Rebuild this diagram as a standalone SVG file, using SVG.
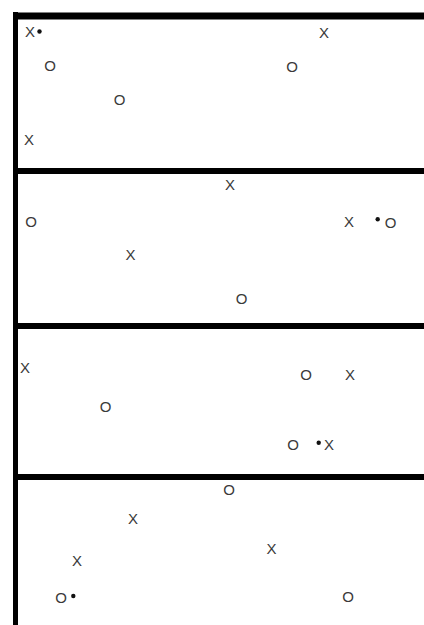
<svg xmlns="http://www.w3.org/2000/svg" width="424" height="625" viewBox="0 0 424 625">
<style>
.m{font-family:"Liberation Sans",Arial,sans-serif;font-size:15px;fill:#3a3a3a;text-anchor:middle}
.d{fill:#111}
.b{stroke:#000;fill:none}
</style>
<rect width="424" height="625" fill="#fff"/>
<g id="frame">
<line class="b" x1="15.5" y1="12" x2="15.5" y2="625" stroke-width="5"/>
<line class="b" x1="13" y1="16" x2="424" y2="16" stroke-width="7"/>
<line class="b" x1="13" y1="171" x2="424" y2="171" stroke-width="6"/>
<line class="b" x1="13" y1="326" x2="424" y2="326" stroke-width="6"/>
<line class="b" x1="13" y1="477" x2="424" y2="477" stroke-width="6"/>
</g>
<g id="panel1">
<g id="p1x1"><text class="m" x="30" y="36.5">X</text><circle class="d" cx="39.5" cy="31.5" r="2.2"/></g>
<g id="p1o1"><text class="m" x="50" y="70.5">O</text></g>
<g id="p1o2"><text class="m" x="119.5" y="104.5">O</text></g>
<g id="p1x2"><text class="m" x="29" y="144.5">X</text></g>
<g id="p1x3"><text class="m" x="324" y="37.5">X</text></g>
<g id="p1o3"><text class="m" x="292" y="71.5">O</text></g>
</g>
<g id="panel2">
<g id="p2o1"><text class="m" x="31" y="226.5">O</text></g>
<g id="p2x1"><text class="m" x="130.5" y="259.5">X</text></g>
<g id="p2x2"><text class="m" x="230" y="190">X</text></g>
<g id="p2x3"><text class="m" x="349" y="227">X</text></g>
<g id="p2o2"><circle class="d" cx="377.7" cy="219.3" r="2.2"/><text class="m" x="390.5" y="227.5">O</text></g>
<g id="p2o3"><text class="m" x="241.5" y="303.5">O</text></g>
</g>
<g id="panel3">
<g id="p3x1"><text class="m" x="25" y="372.5">X</text></g>
<g id="p3o1"><text class="m" x="105.5" y="411.5">O</text></g>
<g id="p3o2"><text class="m" x="306" y="379.5">O</text></g>
<g id="p3x2"><text class="m" x="350" y="379.5">X</text></g>
<g id="p3o3"><text class="m" x="293" y="449.5">O</text></g>
<g id="p3x3"><circle class="d" cx="318.7" cy="442.7" r="2.2"/><text class="m" x="329" y="450">X</text></g>
</g>
<g id="panel4">
<g id="p4x1"><text class="m" x="133" y="523.5">X</text></g>
<g id="p4x2"><text class="m" x="77" y="566">X</text></g>
<g id="p4o1"><text class="m" x="61" y="602.5">O</text><circle class="d" cx="73.3" cy="596" r="2.2"/></g>
<g id="p4o2"><text class="m" x="229" y="494.5">O</text></g>
<g id="p4x3"><text class="m" x="271.5" y="553.5">X</text></g>
<g id="p4o3"><text class="m" x="348" y="601.5">O</text></g>
</g>
</svg>
